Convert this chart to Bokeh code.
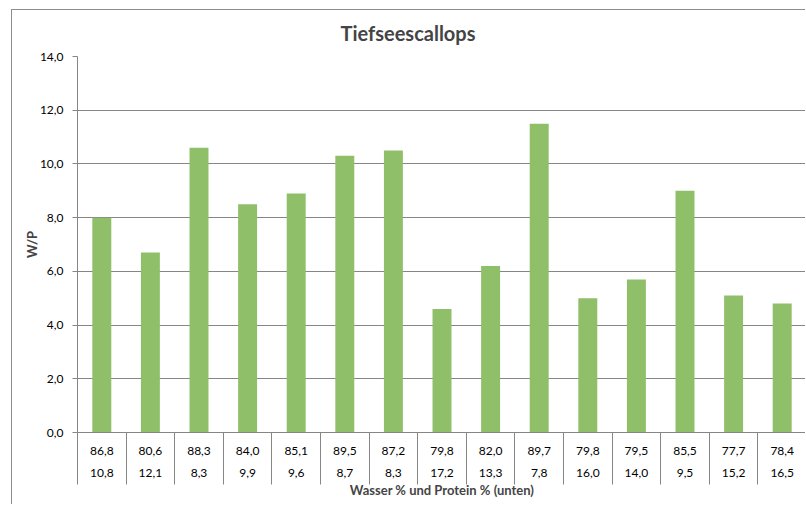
from bokeh.plotting import figure
from bokeh.models import (Range1d, LinearAxis, FixedTicker, CustomJSTickFormatter, Grid)
from bokeh.embed import file_html
from bokeh.resources import INLINE

# ---- data ----
water = ["86,8", "80,6", "88,3", "84,0", "85,1", "89,5", "87,2", "79,8",
         "82,0", "89,7", "79,8", "79,5", "85,5", "77,7", "78,4"]
protein = ["10,8", "12,1", "8,3", "9,9", "9,6", "8,7", "8,3", "17,2",
           "13,3", "7,8", "16,0", "14,0", "9,5", "15,2", "16,5"]
wp_ratio = [8.0, 6.7, 10.6, 8.5, 8.9, 10.3, 10.5, 4.6, 6.2, 11.5, 5.0, 5.7, 9.0, 5.1, 4.8]
y_ticks = [0, 2, 4, 6, 8, 10, 12, 14]

title_text = "Tiefseescallops"
y_title = "W/P"
x_title = "Wasser % und Protein % (unten)"

FONT = "Lato"
GRID = "#868686"
BAR = "#8fbf68"

n = len(wp_ratio)
centers = [i + 0.5 for i in range(n)]
bounds = list(range(n + 1))

p = figure(width=794, height=495, output_backend="svg", toolbar_location=None,
           x_range=Range1d(0, n), y_range=Range1d(0, 14),
           x_axis_type=None, y_axis_type=None,
           min_border_left=65, min_border_right=0, min_border_top=46,
           min_border_bottom=73, outline_line_color=None,
           background_fill_color="white", border_fill_color="white")
p.styles = {"margin-left": "11px", "margin-top": "9px",
            "border-left": "1px solid #8c8c8c", "border-top": "1px solid #8c8c8c"}

p.title.text = title_text
p.title.text_font = FONT
p.title.text_font_size = "20px"
p.title.text_font_style = "bold"
p.title.align = "left"
p.title.offset = 263
p.title.standoff = 19
p.title.vertical_align = "top"

p.vbar(x=centers, top=wp_ratio, width=0.39, fill_color=BAR, line_color=None)

# y axis
yax = LinearAxis(ticker=FixedTicker(ticks=y_ticks, minor_ticks=[]),
                 formatter=CustomJSTickFormatter(code="return tick.toFixed(1).replace('.', ',');"))
yax.axis_line_color = GRID
yax.major_tick_line_color = GRID
yax.major_tick_out = 5
yax.major_tick_in = 0
yax.minor_tick_line_color = None
yax.major_label_standoff = 9
yax.major_label_text_font = FONT
yax.major_label_text_font_size = "12px"
yax.major_label_text_color = "#000000"
yax.axis_label = y_title
yax.axis_label_text_font = FONT
yax.axis_label_text_font_size = "13px"
yax.axis_label_text_font_style = "bold"
yax.axis_label_standoff = -3
p.add_layout(yax, "left")

p.add_layout(Grid(dimension=1, ticker=FixedTicker(ticks=y_ticks),
                  grid_line_color=GRID, grid_line_width=1.2))

# x axis row 1 (water) with category boundary ticks
xax1 = LinearAxis(ticker=FixedTicker(ticks=centers, minor_ticks=bounds),
                  formatter=CustomJSTickFormatter(args=dict(labels=water),
                                                  code="return labels[Math.floor(tick)];"))
xax1.axis_line_color = GRID
xax1.axis_line_width = 1.2
xax1.major_tick_line_color = None
xax1.major_tick_out = 0
xax1.major_tick_in = 0
xax1.minor_tick_line_color = GRID
xax1.minor_tick_out = 0
xax1.minor_tick_in = -52
xax1.major_label_standoff = 14
xax1.major_label_text_font = FONT
xax1.major_label_text_font_size = "12px"
xax1.major_label_text_color = "#000000"
p.add_layout(xax1, "below")

xax2 = LinearAxis(ticker=FixedTicker(ticks=centers, minor_ticks=[]),
                  formatter=CustomJSTickFormatter(args=dict(labels=protein),
                                                  code="return labels[Math.floor(tick)];"))
xax2.axis_line_color = None
xax2.major_tick_line_color = None
xax2.major_tick_out = 0
xax2.major_tick_in = 0
xax2.minor_tick_line_color = None
xax2.major_label_standoff = 11
xax2.major_label_text_font = FONT
xax2.major_label_text_font_size = "12px"
xax2.major_label_text_color = "#000000"
xax2.axis_label = x_title
xax2.axis_label_text_font = FONT
xax2.axis_label_text_font_size = "13px"
xax2.axis_label_text_font_style = "bold"
xax2.axis_label_standoff = 2
p.add_layout(xax2, "below")

open("out.html", "w").write(file_html(p, INLINE))
